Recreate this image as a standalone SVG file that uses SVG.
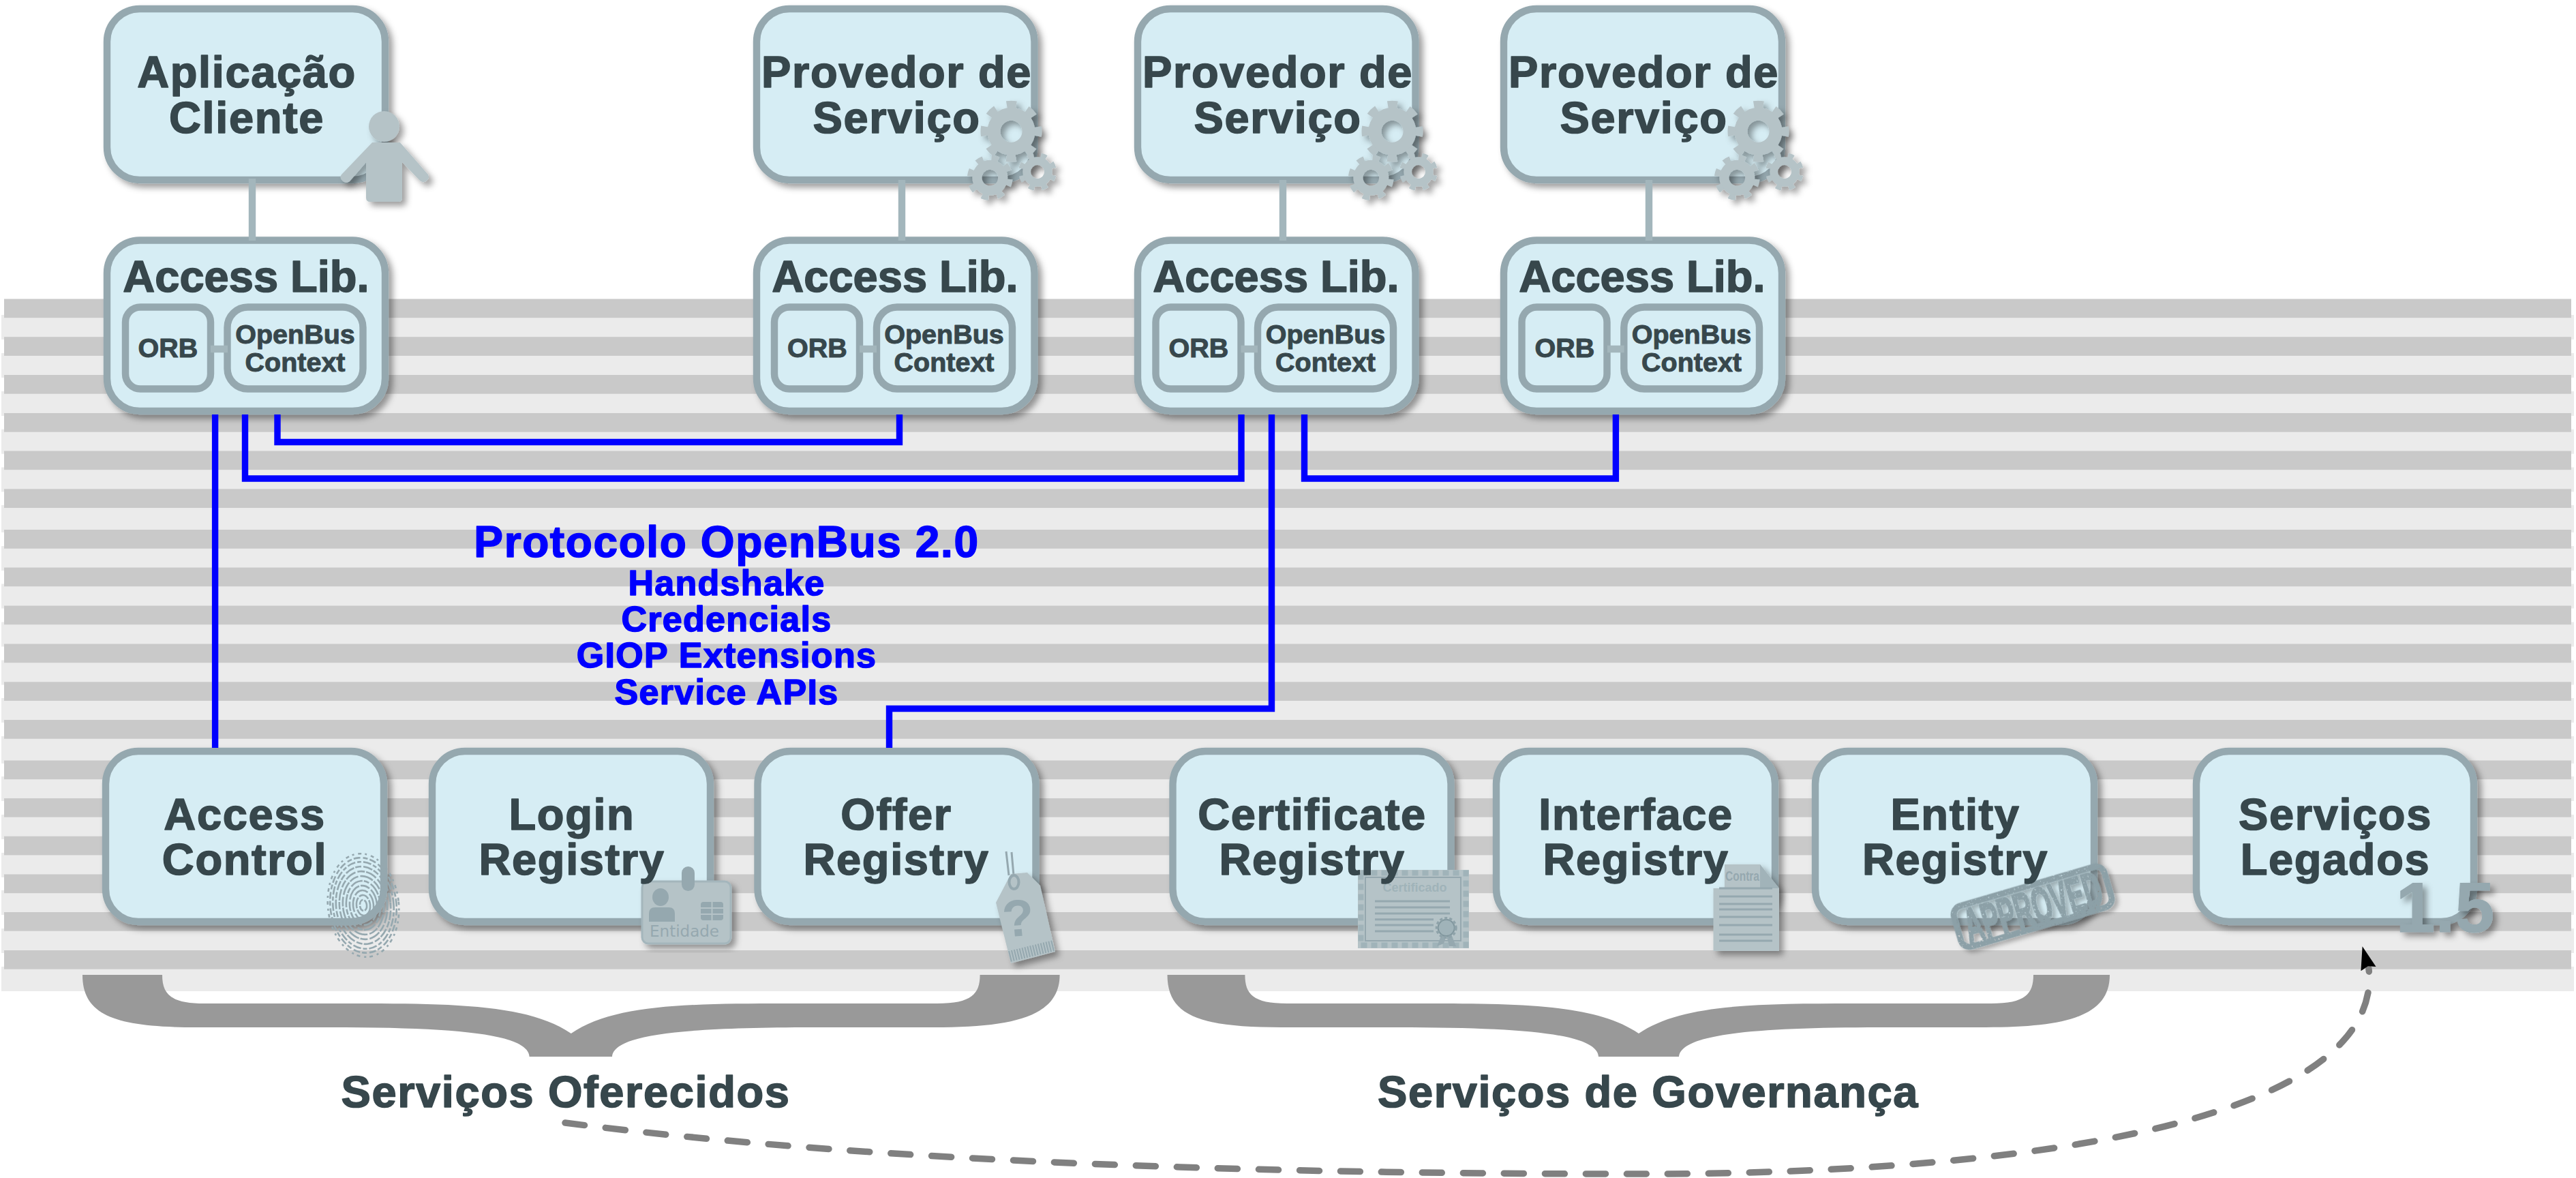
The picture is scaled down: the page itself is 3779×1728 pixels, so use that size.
<svg xmlns="http://www.w3.org/2000/svg" xmlns:xlink="http://www.w3.org/1999/xlink" width="3779" height="1728" viewBox="0 0 3779 1728">
<style>
text{font-family:"Liberation Sans",Arial,sans-serif;font-weight:bold;text-anchor:middle;fill:#37474c;stroke:#37474c;stroke-linejoin:round}
.t{font-size:65px;stroke-width:1.6px;letter-spacing:1.6px}
.a{font-size:65px;stroke-width:1.6px}
.s{font-size:39.5px;stroke-width:1px}
.b{fill:#0000ff;stroke:#0000ff;font-size:52px;stroke-width:1.6px;letter-spacing:1.3px}
.bt{fill:#0000ff;stroke:#0000ff;font-size:64px;stroke-width:1.6px;letter-spacing:1.6px}
.box{fill:#d6edf4;stroke:#95a8af;stroke-width:10.4px;filter:url(#sh)}
.in{fill:#d6edf4;stroke:#95a8af;stroke-width:10.4px}
.d{fill:#c9c9c9}
.l{fill:#ebebeb}
.blue{fill:none;stroke:#0000ff;stroke-width:9.4px}
.lk{fill:none;stroke:#a3b6bc;stroke-width:10.4px}
.brace{fill:#999999}
.ic{fill:#b5c3c7}
.id{fill:#95a8af;stroke:none}
.il{stroke:#95a8af;fill:none;stroke-width:3px}
.fp{fill:none;stroke:#95a8af;stroke-width:2.6px}
.ict{font-weight:normal;fill:#95a8af;stroke:none}
</style>
<defs>
<filter id="sh" x="-15%" y="-15%" width="130%" height="130%"><feDropShadow dx="6" dy="6" stdDeviation="5" flood-color="#000" flood-opacity=".38"/></filter>
<filter id="rough" x="-5%" y="-10%" width="115%" height="125%"><feTurbulence type="fractalNoise" baseFrequency=".35" numOctaves="2" seed="4" result="n"/><feColorMatrix in="n" type="matrix" values="0 0 0 0 0 0 0 0 0 0 0 0 0 0 0 0 0 0 -7 5.5" result="m"/><feComposite in="SourceGraphic" in2="m" operator="in" result="c"/><feDropShadow in="c" dx="4" dy="5" stdDeviation="3" flood-color="#000" flood-opacity=".3"/></filter>
<marker id="ah" markerUnits="userSpaceOnUse" markerWidth="50" markerHeight="50" refX="0" refY="25" orient="-106" viewBox="0 0 50 50"><path d="M34,25 L0,13 L4,25 L0,36 Z" fill="#000"/></marker>
<g id="gear"><circle r="25.5" fill="none" stroke="#b5c3c7" stroke-width="19"/><circle r="39.5" fill="none" stroke="#b5c3c7" stroke-width="11" stroke-dasharray="14 17.03" stroke-dashoffset="7"/></g>
<g id="gears" filter="url(#sh)"><use xlink:href="#gear" href="#gear" transform="translate(373.5,192.7)"/><use xlink:href="#gear" href="#gear" transform="translate(342.3,260.7) rotate(14) scale(.74)"/><use xlink:href="#gear" href="#gear" transform="translate(412,252) rotate(20) scale(.62)"/></g>
</defs>

<g id="faixas">
<g class="l">
<rect x="2" y="462" width="3774" height="36"/><rect x="2" y="518" width="3774" height="36"/><rect x="2" y="574" width="3774" height="36"/><rect x="2" y="629.7" width="3774" height="36"/><rect x="2" y="685.5" width="3774" height="36"/><rect x="2" y="741" width="3774" height="40"/>
<rect x="2" y="801" width="3774" height="36"/><rect x="2" y="856.5" width="3774" height="36"/><rect x="2" y="912.5" width="3774" height="36"/><rect x="2" y="968.5" width="3774" height="36"/><rect x="2" y="1024" width="3774" height="36"/><rect x="2" y="1080" width="3774" height="40"/>
<rect x="2" y="1139" width="3774" height="36"/><rect x="2" y="1195" width="3774" height="36"/><rect x="2" y="1251" width="3774" height="36"/><rect x="2" y="1306" width="3774" height="36"/><rect x="2" y="1362" width="3774" height="36"/><rect x="2" y="1418" width="3774" height="36"/>
</g>
<g class="d">
<rect x="6" y="438.5" width="3766" height="27.7"/><rect x="6" y="494.2" width="3766" height="27.7"/><rect x="6" y="550" width="3766" height="27.7"/><rect x="6" y="606" width="3766" height="27.7"/><rect x="6" y="661.5" width="3766" height="27.7"/><rect x="6" y="717.3" width="3766" height="27.7"/>
<rect x="6" y="777" width="3766" height="27.7"/><rect x="6" y="832.5" width="3766" height="27.7"/><rect x="6" y="888.5" width="3766" height="27.7"/><rect x="6" y="944.5" width="3766" height="27.7"/><rect x="6" y="1000.3" width="3766" height="27.7"/><rect x="6" y="1056" width="3766" height="27.7"/>
<rect x="6" y="1115.5" width="3766" height="27.7"/><rect x="6" y="1171" width="3766" height="27.7"/><rect x="6" y="1226.7" width="3766" height="27.7"/><rect x="6" y="1282.5" width="3766" height="27.7"/><rect x="6" y="1338" width="3766" height="27.7"/><rect x="6" y="1394" width="3766" height="27.7"/>
</g>
</g>

<g id="aplicacao-cliente">
<rect class="box" x="157" y="13" width="408" height="251" rx="48"/>
<g class="ic" filter="url(#sh)"><circle cx="563.5" cy="185.5" r="22.5"/><path d="M546,209 H587 L628,256 Q631,262 625,266 Q619,269 615,264 L590,238 V290 Q590,296 584,296 H543 Q537,296 537,290 V238 L513,266 Q508,270 503,266 Q497,261 501,256 Z"/></g>
<text class="t" x="362" y="128">Aplicação</text><text class="t" x="362" y="195">Cliente</text>
</g>
<g id="access-lib-1">
<rect class="box" x="157" y="352.5" width="408" height="250.5" rx="48"/>
<rect class="in" x="184" y="450.5" width="125" height="120" rx="22"/><rect class="in" x="333.5" y="450.5" width="199" height="120" rx="30"/>
<text class="a" x="361" y="428">Access Lib.</text><text class="s" x="246.5" y="524">ORB</text><text class="s" x="433" y="503.5">OpenBus</text><text class="s" x="433" y="544.5">Context</text>
</g>

<g id="provedor-1">
<rect class="box" x="1110" y="13" width="407.5" height="251" rx="48"/>
<use xlink:href="#gears" href="#gears" x="1110"/>
<text class="t" x="1315.5" y="128">Provedor de</text><text class="t" x="1315.5" y="195">Serviço</text>
</g>
<g id="access-lib-2">
<rect class="box" x="1110" y="352.5" width="407.5" height="250.5" rx="48"/>
<rect class="in" x="1136" y="450.5" width="125" height="120" rx="22"/><rect class="in" x="1286" y="450.5" width="199" height="120" rx="30"/>
<text class="a" x="1313" y="428">Access Lib.</text><text class="s" x="1199" y="524">ORB</text><text class="s" x="1385" y="503.5">OpenBus</text><text class="s" x="1385" y="544.5">Context</text>
</g>

<g id="provedor-2">
<rect class="box" x="1669" y="13" width="407.5" height="251" rx="48"/>
<use xlink:href="#gears" href="#gears" x="1669"/>
<text class="t" x="1874.5" y="128">Provedor de</text><text class="t" x="1874.5" y="195">Serviço</text>
</g>
<g id="access-lib-3">
<rect class="box" x="1669" y="352.5" width="407.5" height="250.5" rx="48"/>
<rect class="in" x="1695.5" y="450.5" width="125" height="120" rx="22"/><rect class="in" x="1845" y="450.5" width="199" height="120" rx="30"/>
<text class="a" x="1872" y="428">Access Lib.</text><text class="s" x="1758.5" y="524">ORB</text><text class="s" x="1944.5" y="503.5">OpenBus</text><text class="s" x="1944.5" y="544.5">Context</text>
</g>

<g id="provedor-3">
<rect class="box" x="2206" y="13" width="408" height="251" rx="48"/>
<use xlink:href="#gears" href="#gears" x="2206"/>
<text class="t" x="2411.5" y="128">Provedor de</text><text class="t" x="2411.5" y="195">Serviço</text>
</g>
<g id="access-lib-4">
<rect class="box" x="2206" y="352.5" width="408" height="250.5" rx="48"/>
<rect class="in" x="2232.5" y="450.5" width="125" height="120" rx="22"/><rect class="in" x="2382.3" y="450.5" width="198.7" height="120" rx="30"/>
<text class="a" x="2409" y="428">Access Lib.</text><text class="s" x="2295.5" y="524">ORB</text><text class="s" x="2481.5" y="503.5">OpenBus</text><text class="s" x="2481.5" y="544.5">Context</text>
</g>

<g id="access-control">
<rect class="box" x="155" y="1102" width="408" height="250" rx="48"/>
<g transform="rotate(-6 533 1328)"><ellipse class="fp" cx="533" cy="1328" rx="5" ry="8" stroke-dasharray="9 2"/><ellipse class="fp" cx="533" cy="1328" rx="10" ry="15" stroke-dasharray="16 2"/><ellipse class="fp" cx="533" cy="1328" rx="15" ry="22" stroke-dasharray="22 3"/><ellipse class="fp" cx="533" cy="1328" rx="20" ry="29" stroke-dasharray="25 2 14 3"/><ellipse class="fp" cx="533" cy="1328" rx="25" ry="36" stroke-dasharray="19 2 8 3"/><ellipse class="fp" cx="533" cy="1328" rx="30" ry="43" stroke-dasharray="14 3 20 2"/><ellipse class="fp" cx="533" cy="1328" rx="35" ry="50" stroke-dasharray="11 2 17 3"/><ellipse class="fp" cx="533" cy="1328" rx="40" ry="57" stroke-dasharray="9 3 14 2"/><ellipse class="fp" cx="533" cy="1328" rx="44.5" ry="64" stroke-dasharray="12 3 6 3"/><ellipse class="fp" cx="533" cy="1328" rx="48.5" ry="70" stroke-dasharray="7 3 10 4"/><ellipse class="fp" cx="533" cy="1328" rx="52" ry="76" stroke-dasharray="5 5 3 6"/></g>
<text class="t" x="359" y="1217">Access</text><text class="t" x="359" y="1283">Control</text>
</g>

<g id="login-registry">
<rect class="box" x="634" y="1102" width="408" height="250" rx="48"/>
<rect class="ic" x="942" y="1293" width="130" height="91" rx="9" stroke="#a4b6bc" stroke-width="3" filter="url(#sh)"/>
<rect class="id" x="1000" y="1271" width="19" height="36" rx="9.5"/>
<ellipse class="id" cx="969" cy="1316" rx="12" ry="13"/>
<path class="id" d="M952,1352 V1340 Q952,1331 961,1331 H981 Q990,1331 990,1340 V1352 Z"/>
<rect class="id" x="1028" y="1323" width="33" height="27" rx="4"/>
<path d="M1028,1332 H1061 M1028,1341 H1061 M1044.5,1323 V1350" stroke="#b5c3c7" stroke-width="2" fill="none"/>
<text class="ict" x="1004" y="1374" style="font-family:'DejaVu Sans',sans-serif;font-size:23px">Entidade</text>
<text class="t" x="839" y="1217">Login</text><text class="t" x="839" y="1283">Registry</text>
</g>

<g id="offer-registry">
<rect class="box" x="1111.5" y="1102" width="408" height="250" rx="48"/>
<path class="il" d="M1476,1249 L1480,1284 M1484,1250 L1487,1284" stroke-width="2"/>
<path class="ic" filter="url(#sh)" d="M1483,1282 L1507,1280 L1526,1299 L1548,1396 L1483,1413 L1461,1324 Z"/>
<ellipse cx="1487.5" cy="1294" rx="7" ry="10" fill="none" stroke="#95a8af" stroke-width="4"/>
<text class="ict" x="1496" y="1373" transform="rotate(-5 1496 1373)" style="font-size:76px;font-weight:bold">?</text>
<path d="M1481,1403 L1546,1387" stroke="#95a8af" stroke-width="16" stroke-dasharray="2 2" fill="none"/>
<text class="t" x="1315" y="1217">Offer</text><text class="t" x="1315" y="1283">Registry</text>
</g>

<g id="certificate-registry">
<rect class="box" x="1720.5" y="1102" width="408" height="250" rx="48"/>
<rect class="ic" x="1992" y="1276" width="163" height="115"/>
<rect x="1996.5" y="1280.5" width="154" height="106" fill="none" stroke="#a0b3b9" stroke-width="8" stroke-dasharray="9 6"/>
<rect x="2003" y="1287" width="140" height="93" fill="none" stroke="#95a8af" stroke-width="2"/>
<text x="2075.5" y="1308" textLength="94" lengthAdjust="spacingAndGlyphs" style="font-size:19px;fill:#a0b3b9;stroke:none">Certificado</text>
<path class="il" d="M2017,1322 H2127 M2017,1331 H2127 M2017,1340 H2127 M2017,1348.7 H2103 M2017,1357 H2103 M2017,1366 H2103"/>
<path d="M2116,1368 L2108,1388 L2118,1384 L2122,1372 L2126,1388 L2136,1388 L2128,1368 Z" fill="#95a8af"/>
<circle cx="2121.7" cy="1361" r="12" fill="#a0b3b9" stroke="#7f959c" stroke-width="2"/>
<circle cx="2121.7" cy="1361" r="14" fill="none" stroke="#8ea2a9" stroke-width="4" stroke-dasharray="4 3"/>
<text class="t" x="1925" y="1217">Certificate</text><text class="t" x="1925" y="1283">Registry</text>
</g>

<g id="interface-registry">
<rect class="box" x="2195" y="1102" width="409" height="250" rx="48"/>
<path class="ic" filter="url(#sh)" d="M2530,1268 H2582 L2610,1303 V1395 H2513.5 V1303 H2530 Z"/>
<path class="id" d="M2582,1268 L2610,1303 H2582 Z" opacity=".6"/>
<text class="ict" x="2556" y="1292" textLength="50" lengthAdjust="spacingAndGlyphs" style="font-size:20px;font-weight:bold">Contra</text>
<path class="il" d="M2522,1303 H2600 M2522,1315 H2600 M2522,1326 H2600 M2522,1334 H2600 M2522,1345 H2600 M2522,1357 H2600 M2522,1371 H2600 M2522,1380 H2600"/>
<text class="t" x="2400" y="1217">Interface</text><text class="t" x="2400" y="1283">Registry</text>
</g>

<g id="entity-registry">
<rect class="box" x="2663" y="1102" width="409" height="250" rx="48"/>
<g transform="rotate(-16.3 2982 1330)" filter="url(#rough)"><rect x="2867" y="1299" width="230" height="62" rx="13" fill="none" stroke="#8ca0a7" stroke-width="9"/><text x="2982" y="1356" textLength="208" lengthAdjust="spacingAndGlyphs" style="font-size:72px;fill:#8ca0a7;stroke:#8ca0a7;stroke-width:3px">APPROVED</text></g>
<text class="t" x="2868.5" y="1217">Entity</text><text class="t" x="2868.5" y="1283">Registry</text>
</g>

<g id="servicos-legados">
<rect class="box" x="3222" y="1102" width="407" height="250" rx="48"/>
<text class="t" x="3426" y="1217">Serviços</text><text class="t" x="3426" y="1283">Legados</text>
<text x="3587" y="1367" filter="url(#sh)" style="font-size:104px;fill:#95a8af;stroke:#95a8af;stroke-width:1px">1.5</text>
</g>

<g id="chave-oferecidos">
<path class="brace" d="M121,1430 H238 C238,1458 250,1472 300,1472 H483 C650,1472 770,1470 837.8,1516 C905,1470 1025,1472 1192,1472 H1375 C1425,1472 1437.6,1458 1437.6,1430 H1554.6 C1554.6,1490 1490,1507 1370,1507 H1192 C1000,1507 900,1518 898,1550 H776.6 C775,1518 680,1507 483,1507 H290 C170,1507 121,1490 121,1430 Z"/>
<text class="t" x="830" y="1624">Serviços Oferecidos</text>
</g>
<g id="chave-governanca">
<path class="brace" d="M1712.5,1430 H1826.4 C1826.4,1458 1838,1472 1888,1472 H2050 C2217,1472 2337,1470 2404,1516 C2471,1470 2591,1472 2758,1472 H2921 C2971,1472 2983,1458 2983,1430 H3095 C3095,1490 3033,1507 2913,1507 H2758 C2566,1507 2466,1518 2463,1550 H2345 C2343,1518 2248,1507 2050,1507 H1880 C1760,1507 1712.5,1490 1712.5,1430 Z"/>
<text class="t" x="2418" y="1624">Serviços de Governança</text>
</g>

<g id="protocolo">
<text class="bt" x="1066" y="817">Protocolo OpenBus 2.0</text>
<text class="b" x="1066" y="873">Handshake</text><text class="b" x="1066" y="926">Credencials</text><text class="b" x="1066" y="979">GIOP Extensions</text><text class="b" x="1066" y="1032.5">Service APIs</text>
</g>

<g id="conectores">
<path class="lk" d="M370,262 V353 M1323,264 V353 M1882,264 V353 M2419,264 V353"/>
<path class="lk" d="M309,512 H334 M1261,512 H1286 M1820.5,512 H1845 M2358,512 H2382.7"/>
<path class="blue" d="M315.6,608 V1097"/>
<path class="blue" d="M359.5,608 V702 H1821 V608"/>
<path class="blue" d="M407,608 V648.5 H1319.5 V608"/>
<path class="blue" d="M1865.5,608 V1039.5 H1304.5 V1097"/>
<path class="blue" d="M1913.5,608 V702 H2370.4 V608"/>
<path d="M829,1647 C1300,1708 1900,1722 2407,1722 C3000,1722 3476,1640 3476,1433 L3475,1421" fill="none" stroke="#808080" stroke-width="9.5" stroke-linecap="round" stroke-dasharray="29 31" marker-end="url(#ah)"/>
</g>
</svg>
